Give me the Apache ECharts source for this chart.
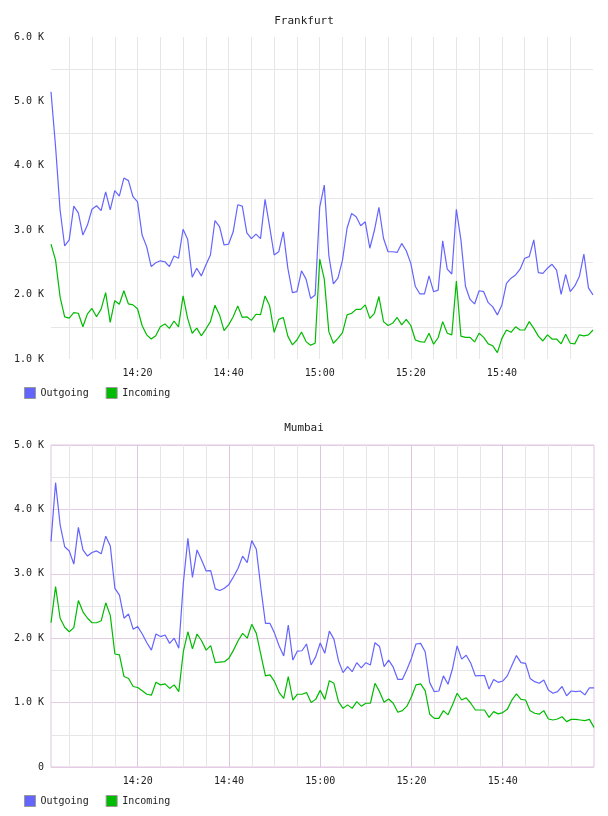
<!DOCTYPE html>
<html>
<head>
<meta charset="utf-8">
<script src="https://cdn.jsdelivr.net/npm/echarts@6/dist/echarts.min.js"></script>
<style>
html,body{margin:0;padding:0;background:#fff;}
#chart{width:608px;height:816px;}
</style>
</head>
<body>
<div id="chart"></div>
<script>
const times = [
'14:01','14:02','14:03','14:04','14:05','14:06','14:07','14:08','14:09','14:10',
'14:11','14:12','14:13','14:14','14:15','14:16','14:17','14:18','14:19','14:20',
'14:21','14:22','14:23','14:24','14:25','14:26','14:27','14:28','14:29','14:30',
'14:31','14:32','14:33','14:34','14:35','14:36','14:37','14:38','14:39','14:40',
'14:41','14:42','14:43','14:44','14:45','14:46','14:47','14:48','14:49','14:50',
'14:51','14:52','14:53','14:54','14:55','14:56','14:57','14:58','14:59','15:00',
'15:01','15:02','15:03','15:04','15:05','15:06','15:07','15:08','15:09','15:10',
'15:11','15:12','15:13','15:14','15:15','15:16','15:17','15:18','15:19','15:20',
'15:21','15:22','15:23','15:24','15:25','15:26','15:27','15:28','15:29','15:30',
'15:31','15:32','15:33','15:34','15:35','15:36','15:37','15:38','15:39','15:40',
'15:41','15:42','15:43','15:44','15:45','15:46','15:47','15:48','15:49','15:50',
'15:51','15:52','15:53','15:54','15:55','15:56','15:57','15:58','15:59','16:00'
];

const seriesNames = ['Outgoing', 'Incoming'];
const chartTitles = ['Frankfurt', 'Mumbai'];

const fraOutgoing = [
5150,4300,3310,2755,2850,3375,3270,2925,3080,3325,
3380,3305,3595,3315,3615,3530,3810,3770,3520,3440,
2925,2745,2435,2495,2525,2510,2435,2600,2565,3015,
2860,2270,2410,2290,2460,2615,3150,3055,2770,2785,
2975,3395,3375,2960,2870,2940,2870,3480,3055,2615,
2665,2975,2410,2030,2045,2370,2240,1940,1995,3360,
3700,2610,2165,2255,2535,3030,3260,3210,3070,3130,
2720,2995,3355,2875,2665,2665,2655,2795,2680,2485,
2125,2010,2010,2290,2045,2070,2835,2395,2320,3325,
2850,2130,1925,1855,2060,2045,1875,1810,1685,1840,
2175,2255,2305,2395,2565,2590,2850,2340,2330,2410,
2470,2380,2005,2315,2045,2135,2280,2630,2105,1995
];
const fraIncoming = [
2785,2535,1960,1655,1635,1720,1710,1500,1700,1785,
1655,1775,2030,1570,1905,1850,2060,1855,1840,1780,
1520,1375,1310,1360,1500,1545,1475,1590,1500,1980,
1630,1400,1480,1360,1465,1580,1835,1685,1440,1530,
1655,1825,1645,1655,1600,1695,1690,1980,1825,1415,
1615,1645,1355,1220,1295,1420,1270,1215,1245,2550,
2240,1425,1245,1320,1410,1685,1710,1770,1770,1840,
1630,1710,1970,1580,1520,1555,1645,1530,1615,1520,
1295,1270,1260,1400,1230,1330,1580,1400,1375,2210,
1355,1335,1335,1265,1400,1335,1235,1205,1100,1320,
1450,1415,1500,1450,1450,1580,1475,1355,1280,1375,
1310,1310,1235,1385,1245,1235,1375,1360,1375,1450
];
const mumOutgoing = [
3500,4415,3760,3420,3355,3150,3720,3370,3275,3330,
3355,3310,3585,3430,2775,2670,2310,2375,2140,2180,
2065,1930,1815,2065,2025,2050,1920,2000,1845,2855,
3550,2945,3370,3215,3045,3050,2765,2740,2775,2835,
2955,3085,3275,3175,3515,3380,2775,2230,2230,2075,
1880,1725,2205,1660,1800,1805,1910,1585,1710,1925,
1765,2110,1985,1650,1465,1560,1480,1620,1540,1620,
1585,1930,1870,1560,1660,1550,1360,1360,1515,1690,
1910,1920,1790,1310,1170,1180,1415,1285,1530,1880,
1675,1735,1610,1415,1420,1420,1210,1360,1315,1335,
1415,1575,1730,1620,1610,1375,1325,1300,1350,1195,
1145,1170,1250,1105,1180,1170,1180,1120,1230,1230
];
const mumIncoming = [
2240,2800,2310,2170,2100,2165,2585,2410,2310,2240,
2240,2270,2550,2350,1755,1740,1405,1375,1250,1235,
1185,1130,1115,1315,1275,1290,1220,1275,1170,1790,
2100,1835,2065,1960,1815,1885,1620,1630,1635,1690,
1815,1960,2075,2000,2215,2075,1740,1415,1430,1325,
1155,1065,1405,1040,1130,1130,1155,1000,1050,1190,
1050,1340,1300,1015,910,965,910,1015,945,990,
990,1300,1170,1005,1055,990,850,875,945,1090,
1275,1290,1185,820,755,755,875,810,965,1145,
1040,1075,990,885,885,885,770,860,825,845,
895,1040,1135,1050,1040,875,835,820,875,745,
730,745,780,705,740,740,730,720,740,615
];

const FONT = 'DejaVu Sans Mono';
const OUT_COLOR = '#6464ff';
const IN_COLOR = '#00bb00';
const GRAY = '#e6e6e6';
const PINK = '#e4cce4';
const PINK_V = '#dec6de';

function everyMinutes(m) {
  return function (idx, val) {
    const lab = typeof val === 'string' ? val : times[idx];
    return parseInt(lab.slice(3), 10) % m === 0 && lab !== '16:00';
  };
}
function kFmt(v) {
  return v === 0 ? '0' : (v / 1000).toFixed(1) + ' K';
}

const labelStyle = { fontFamily: FONT, fontSize: 10, color: '#222' };

const chart = echarts.init(document.getElementById('chart'), null, { renderer: 'canvas' });
chart.setOption({
  animation: false,
  backgroundColor: '#fff',
  title: [
    { text: chartTitles[0], left: 'center', top: 11, textStyle: { fontFamily: FONT, fontSize: 11, fontWeight: 'normal', color: '#222' } },
    { text: chartTitles[1], left: 'center', top: 418, textStyle: { fontFamily: FONT, fontSize: 11, fontWeight: 'normal', color: '#222' } }
  ],
  legend: [
    { data: seriesNames.map(n => ({ name: n })), left: 24, top: 387, padding: 0, itemWidth: 11, itemHeight: 11, itemGap: 17, icon: 'rect',
      itemStyle: { borderColor: '#999', borderWidth: 1 }, textStyle: labelStyle, selectedMode: false },
    { data: seriesNames.map(n => ({ name: n + ' ' })), left: 24, top: 795, padding: 0, itemWidth: 11, itemHeight: 11, itemGap: 17, icon: 'rect',
      itemStyle: { borderColor: '#999', borderWidth: 1 }, textStyle: labelStyle, selectedMode: false,
      formatter: n => n.trim() }
  ],
  grid: [
    { left: 51, top: 37, width: 542, height: 322, show: false },
    { left: 51, top: 445, width: 543, height: 322, show: true, borderColor: PINK_V, borderWidth: 1, backgroundColor: 'transparent' }
  ],
  xAxis: [
    { type: 'category', gridIndex: 0, data: times, boundaryGap: false,
      axisLine: { show: false }, axisTick: { show: false },
      axisLabel: Object.assign({ interval: everyMinutes(20), margin: 9 }, labelStyle),
      splitLine: { show: true, interval: everyMinutes(5), lineStyle: { color: GRAY, width: 1 } } },
    { type: 'category', gridIndex: 1, data: times, boundaryGap: false,
      axisLine: { show: false }, axisTick: { show: false },
      axisLabel: Object.assign({ interval: everyMinutes(20), margin: 9 }, labelStyle),
      splitLine: { show: true, interval: everyMinutes(5), lineStyle: { color: GRAY, width: 1 } } },
    { type: 'category', gridIndex: 1, data: times, boundaryGap: false, position: 'bottom',
      axisLine: { show: false }, axisTick: { show: false }, axisLabel: { show: false },
      splitLine: { show: true, interval: everyMinutes(20), lineStyle: { color: PINK_V, width: 1 } } }
  ],
  yAxis: [
    { type: 'value', gridIndex: 0, min: 1000, max: 6000, interval: 1000,
      axisLine: { show: false }, axisTick: { show: false },
      axisLabel: Object.assign({ formatter: kFmt, margin: 7 }, labelStyle),
      splitLine: { show: false },
      minorTick: { show: false, splitNumber: 2 },
      minorSplitLine: { show: true, lineStyle: { color: GRAY, width: 1 } } },
    { type: 'value', gridIndex: 1, min: 0, max: 5000, interval: 1000,
      axisLine: { show: false }, axisTick: { show: false },
      axisLabel: Object.assign({ formatter: kFmt, margin: 7 }, labelStyle),
      splitLine: { show: true, lineStyle: { color: PINK, width: 1 } },
      minorTick: { show: false, splitNumber: 2 },
      minorSplitLine: { show: true, lineStyle: { color: GRAY, width: 1 } } }
  ],
  series: [
    { name: seriesNames[0], type: 'line', xAxisIndex: 0, yAxisIndex: 0, data: fraOutgoing, showSymbol: false,
      color: OUT_COLOR, lineStyle: { color: OUT_COLOR, width: 1.2 }, z: 3 },
    { name: seriesNames[1], type: 'line', xAxisIndex: 0, yAxisIndex: 0, data: fraIncoming, showSymbol: false,
      color: IN_COLOR, lineStyle: { color: IN_COLOR, width: 1.2 }, z: 3 },
    { name: seriesNames[0] + ' ', type: 'line', xAxisIndex: 1, yAxisIndex: 1, data: mumOutgoing, showSymbol: false,
      color: OUT_COLOR, lineStyle: { color: OUT_COLOR, width: 1.2 }, z: 3 },
    { name: seriesNames[1] + ' ', type: 'line', xAxisIndex: 1, yAxisIndex: 1, data: mumIncoming, showSymbol: false,
      color: IN_COLOR, lineStyle: { color: IN_COLOR, width: 1.2 }, z: 3 }
  ]
});
</script>
</body>
</html>
